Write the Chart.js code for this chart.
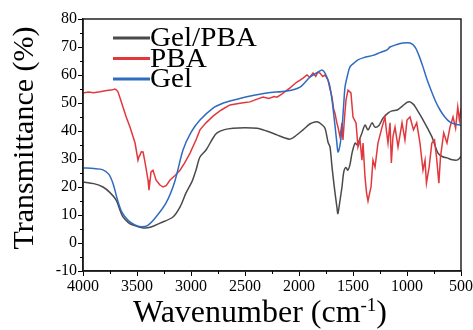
<!DOCTYPE html>
<html>
<head>
<meta charset="utf-8">
<script src="https://cdn.jsdelivr.net/npm/chart.js"></script>
<style>
  html, body { margin: 0; padding: 0; background: #fff; }
  #wrap { width: 473px; height: 330px; position: relative; }
</style>
</head>
<body>
<div id="wrap"><canvas id="ftir"></canvas></div>
<script>
// [wavenumber cm-1, transmittance %]
const gelPba = [
  [4000,21.8],[3900,21.2],[3815,20],[3750,18],[3694,15.4],[3660,12],[3630,9.3],[3580,7.3],
  [3537,6.4],[3444,5.4],[3370,5.7],[3287,7.1],[3167,9.3],[3100,13],[3046,17.9],[2990,22],
  [2954,26],[2917,30.7],[2861,33.2],[2796,37.5],[2759,39.3],[2690,40.5],[2611,41],[2500,41.2],
  [2389,41],[2300,40],[2204,38.6],[2130,37.5],[2083,37.1],[2030,38.3],[1963,40.4],[1900,42.5],
  [1852,43.2],[1824,43.2],[1790,42.3],[1759,41],[1731,36],[1713,34.3],[1694,27],[1670,19],
  [1648,12.5],[1640,10.5],[1625,14],[1602,20],[1585,25.5],[1565,27],[1548,26],[1528,28],
  [1509,32.1],[1481,35.7],[1460,35],[1440,37],[1417,39.3],[1389,42.1],[1361,40.4],[1324,42.9],
  [1296,41.4],[1260,42],[1222,44.6],[1176,46.4],[1139,47.2],[1090,47.5],[1046,48.8],[1000,50.2],
  [972,50.4],[940,49.5],[926,48.8],[890,46.5],[852,44],[810,41],[769,37.9],[713,32.1],
  [670,30.8],[630,30.4],[580,29.7],[537,29.6],[515,30.2],[500,31]
];
const pba = [
  [4000,53.6],[3950,53.9],[3900,53.7],[3843,54],[3780,54.5],[3740,54.6],[3704,55],[3690,54.6],
  [3676,54],[3650,51],[3630,48.6],[3600,45],[3565,41.4],[3518,35.7],[3491,29.6],[3480,31],
  [3472,31.4],[3460,32.6],[3444,32.5],[3426,28.9],[3398,22.5],[3389,18.9],[3380,22],[3370,25.4],
  [3352,26],[3340,24.5],[3324,22.5],[3290,20.8],[3259,20],[3230,20.5],[3194,22.5],[3150,24],
  [3102,26],[3060,28.5],[3009,32.1],[2954,36.8],[2917,40.4],[2861,42.9],[2796,45.3],[2720,47.5],
  [2639,49.3],[2560,49.8],[2500,50.2],[2454,50.4],[2400,51.2],[2333,52.1],[2280,51.6],[2230,52.3],
  [2204,52.1],[2160,53.2],[2111,54.6],[2083,55.4],[2050,56.5],[2019,57.5],[1990,58.2],[1963,58.9],
  [1926,60],[1900,59.2],[1870,60.7],[1845,59.5],[1825,61],[1806,60.7],[1780,59.5],[1760,60],
  [1741,58.9],[1731,58.2],[1713,55],[1694,52],[1680,48],[1667,46.4],[1650,43],[1639,41.4],
  [1620,37.9],[1602,42.9],[1593,36.8],[1580,44],[1565,51],[1546,54.6],[1519,53.6],[1500,45],
  [1472,42.9],[1454,34.3],[1435,36.8],[1417,29.6],[1407,35.7],[1389,23.6],[1375,18],[1361,15],
  [1345,18],[1333,20],[1315,29.6],[1296,27.1],[1269,35.7],[1231,41.4],[1204,45],[1190,40],
  [1176,35.7],[1165,40],[1157,42.9],[1145,28.6],[1130,38],[1111,41.4],[1083,34.3],[1046,42.9],
  [1019,36.8],[1000,43.9],[972,45],[940,40.4],[910,42.9],[880,35.7],[852,26],[833,29.6],
  [820,21.4],[795,27.1],[770,35.7],[745,36.8],[725,30],[705,21.4],[690,30.7],[660,39.3],
  [630,35.7],[602,41.4],[574,45],[550,41],[530,48.6],[515,43.9],[500,48]
];
const gel = [
  [4000,26.8],[3900,26.6],[3820,26.2],[3760,24.5],[3720,21],[3685,16],[3640,11],[3580,8],
  [3520,6.5],[3463,5.8],[3400,6.3],[3330,9],[3231,14.3],[3150,22],[3074,33.2],[3000,39.5],
  [2917,43.9],[2796,48.2],[2700,50],[2611,51],[2450,52.5],[2296,53.6],[2111,54.3],[1991,55.7],
  [1898,59.3],[1824,61],[1787,61.8],[1759,60.7],[1730,58],[1713,55.7],[1694,51],[1667,42],
  [1650,36],[1639,32.5],[1620,35],[1602,41],[1585,50],[1574,55.7],[1550,60],[1528,62.9],
  [1490,64.3],[1454,65.4],[1400,66.2],[1315,67],[1250,68],[1185,69],[1157,70],[1100,70.8],
  [1037,71.4],[972,71.4],[926,70],[890,67],[852,62.9],[820,59],[787,55.5],[740,51],
  [694,47.5],[650,45],[602,43.2],[550,42.4],[509,42.1],[500,42]
];

const xTicks = [4000, 3500, 3000, 2500, 2000, 1500, 1000, 500];
const yTicks = [-10, 0, 10, 20, 30, 40, 50, 60, 70, 80];

const serif = "'Liberation Serif', 'Times New Roman', serif";

function toPoints(arr) {
  return arr.map(p => ({ x: p[0], y: p[1] }));
}

// frame, minor ticks, axis titles and the in-plot legend
const decor = {
  id: 'decor',
  afterDraw(chart) {
    const { ctx, chartArea: a, scales } = chart;
    const x = scales.x, y = scales.y;
    ctx.save();
    ctx.strokeStyle = '#222';
    ctx.lineWidth = 1.5;
    ctx.strokeRect(a.left, a.top, a.right - a.left, a.bottom - a.top);

    ctx.strokeStyle = '#000';
    ctx.lineWidth = 1;
    ctx.beginPath();
    for (let v = 750; v < 4000; v += 500) {
      const px = Math.round(x.getPixelForValue(v)) + 0.5;
      ctx.moveTo(px, a.bottom);
      ctx.lineTo(px, a.bottom + 3);
    }
    for (let v = -5; v < 80; v += 10) {
      const py = Math.round(y.getPixelForValue(v)) + 0.5;
      ctx.moveTo(a.left, py);
      ctx.lineTo(a.left - 3, py);
    }
    ctx.stroke();

    // legend
    ctx.textAlign = 'left';
    ctx.textBaseline = 'alphabetic';
    chart.data.datasets.forEach((ds, i) => {
      const ly = a.top + 19 + i * 20.5;
      ctx.strokeStyle = ds.borderColor;
      ctx.lineWidth = 3;
      ctx.beginPath();
      ctx.moveTo(a.left + 30, ly);
      ctx.lineTo(a.left + 67, ly);
      ctx.stroke();
      ctx.save();
      ctx.translate(a.left + 67, ly + 8);
      ctx.scale(1.08, 1);
      ctx.font = '27px ' + serif;
      ctx.fillStyle = '#000';
      ctx.fillText(ds.label, 0, 0);
      ctx.restore();
    });

    // x title with superscript
    ctx.fillStyle = '#000';
    const main = '32px ' + serif, sup = '19px ' + serif;
    const p1 = 'Wavenumber (cm', p2 = '-1', p3 = ')';
    ctx.font = main; const w1 = ctx.measureText(p1).width, w3 = ctx.measureText(p3).width;
    ctx.font = sup; const w2 = ctx.measureText(p2).width;
    let tx = 260 - (w1 + w2 + w3) / 2;
    const base = 322;
    ctx.font = main; ctx.fillText(p1, tx, base); tx += w1;
    ctx.font = sup; ctx.fillText(p2, tx, base - 11); tx += w2;
    ctx.font = main; ctx.fillText(p3, tx, base);

    // y title
    ctx.translate(33, 138);
    ctx.rotate(-Math.PI / 2);
    ctx.font = '30px ' + serif;
    ctx.textAlign = 'center';
    ctx.fillText('Transmittance (%)', 0, 0);
    ctx.restore();
  }
};

new Chart(document.getElementById('ftir'), {
  type: 'line',
  data: {
    datasets: [
      { label: 'Gel/PBA', data: toPoints(gelPba), borderColor: '#4a4a4a', order: 2, tension: 0.3 },
      { label: 'PBA', data: toPoints(pba), borderColor: '#e2383d', order: 1, tension: 0 },
      { label: 'Gel', data: toPoints(gel), borderColor: '#2f6cbf', order: 0, tension: 0.3 }
    ]
  },
  options: {
    responsive: true,
    maintainAspectRatio: false,
    animation: false,
    layout: { padding: { top: 19, right: 12, left: 0, bottom: 0 } },
    elements: {
      point: { radius: 0 },
      line: { borderWidth: 1.5 }
    },
    plugins: {
      legend: { display: false },
      tooltip: { enabled: false }
    },
    scales: {
      x: {
        type: 'linear',
        min: 500,
        max: 4000,
        reverse: true,
        afterBuildTicks: s => { s.ticks = xTicks.map(v => ({ value: v })); },
        afterFit: s => { s.height = 59; s.paddingLeft = 0; s.paddingRight = 0; },
        grid: { drawOnChartArea: false, drawTicks: true, tickLength: 5, color: '#000' },
        border: { display: true, color: '#000', width: 1.5 },
        ticks: { color: '#000', font: { family: serif, size: 16 }, padding: 1, maxRotation: 0,
                 callback: v => String(v) }
      },
      y: {
        min: -10,
        max: 80,
        afterBuildTicks: s => { s.ticks = yTicks.map(v => ({ value: v })); },
        afterFit: s => { s.width = 83; s.paddingTop = 0; s.paddingBottom = 0; },
        grid: { drawOnChartArea: false, drawTicks: true, tickLength: 5, color: '#000' },
        border: { display: true, color: '#000', width: 1.5 },
        ticks: { color: '#000', font: { family: serif, size: 16 }, padding: 1,
                 callback: v => String(v) }
      }
    }
  },
  plugins: [decor]
});
</script>
</body>
</html>
